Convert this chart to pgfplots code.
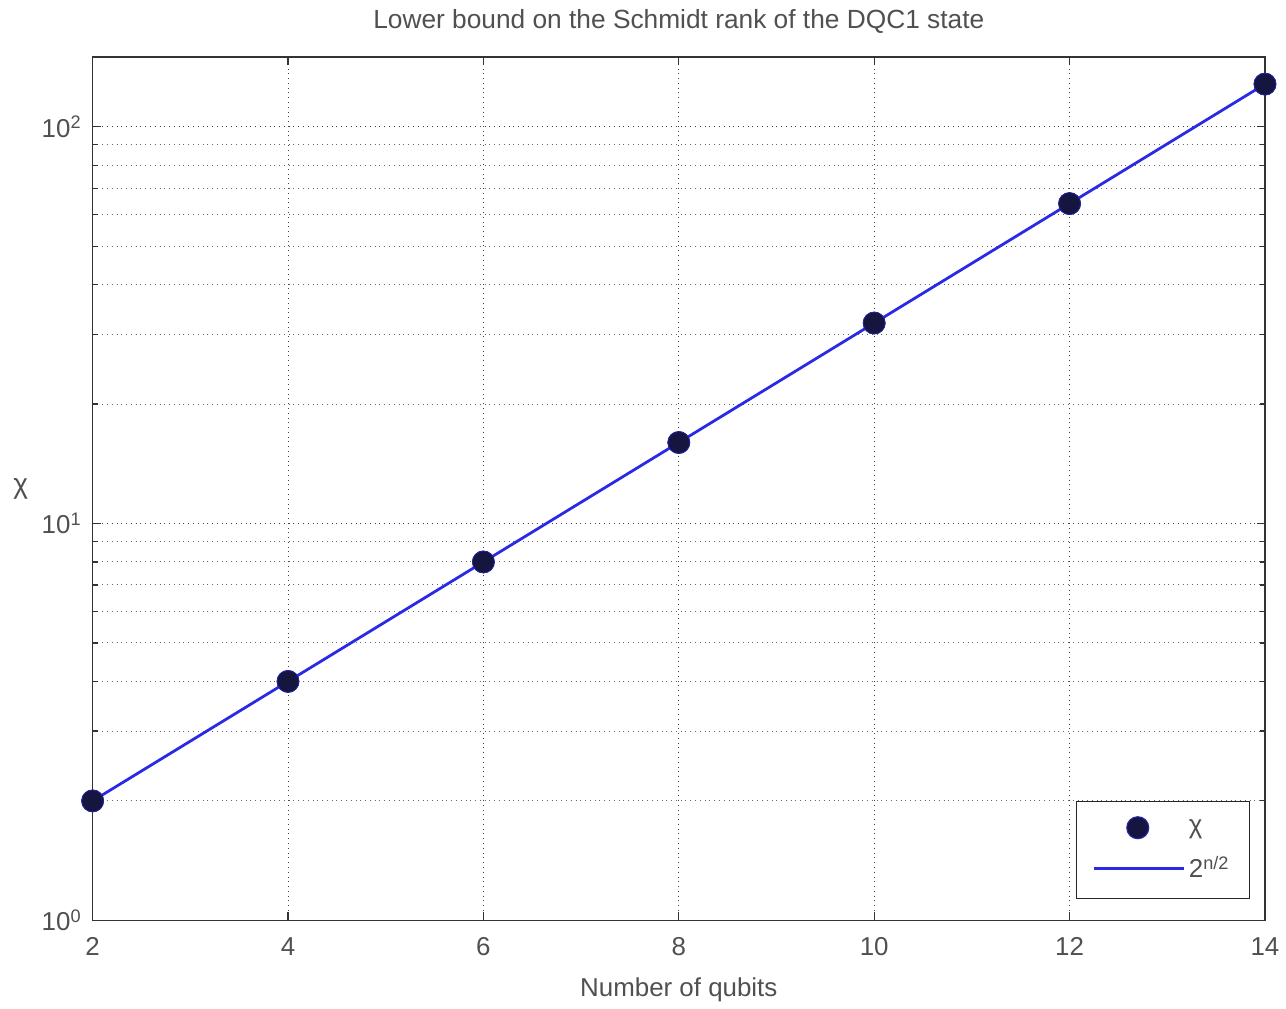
\documentclass[border=0pt]{standalone}
\usepackage{fontspec}
\setmainfont{Liberation Sans}
\usepackage{pgfplots}
\pgfplotsset{compat=1.18}
\definecolor{txt}{HTML}{505050}
\definecolor{mk}{HTML}{15153F}
\definecolor{ln}{HTML}{2A2AE6}
\pgfplotsset{
 mklegend/.style={legend image code/.code={\draw[##1] plot coordinates {(22pt,0pt)};}},
 lnlegend/.style={legend image code/.code={\draw[##1] (0pt,0pt) -- (45pt,0pt);}},
}
\begin{document}
\begin{tikzpicture}
\pgfplotstableread{
n chi
2 2
4 4
6 8
8 16
10 32
12 64
14 128
}\chidata
\begin{axis}[name=ax, scale only axis, width=588.5pt, height=433.5pt,
 ymode=log, xmin=2, xmax=14, ymin=1, ymax=150,
 xtick={2,4,...,14}, ytick={1,10,100},
 yticklabels={10\textsuperscript{0},10\textsuperscript{1},10\textsuperscript{2}},
 minor ytick={2,3,...,9,20,30,...,90},
 /pgf/number format/assume math mode=true,
 grid=both,
 major grid style={dotted, black!75, line width=0.5pt},
 minor grid style={dotted, black!60, line width=0.5pt},
 tick align=inside, major tick length=4pt, minor tick length=2.5pt,
 axis line style={black!80, line width=0.8pt},
 tick style={black!80, line width=0.6pt},
 ticklabel style={font=\fontsize{13}{15}\selectfont, text=txt},
 xticklabel style={yshift=-5pt},
 yticklabel style={xshift=-2pt},
 title={Lower bound on the Schmidt rank of the DQC1 state},
 title style={font=\fontsize{13.2}{15}\selectfont, text=txt, at={(0.5,1)}, anchor=south, yshift=2pt},
 xlabel={Number of qubits},
 xlabel style={font=\fontsize{13}{15}\selectfont, text=txt, yshift=-4pt},
 ylabel={χ},
 ylabel style={font=\fontsize{14}{16}\selectfont, text=txt, rotate=-90},
 legend style={at={(0.9873,0.0242)}, anchor=south east, draw=black!85, line width=0.6pt,
   font=\fontsize{13}{15}\selectfont, text=txt, row sep=6pt, inner xsep=8pt, inner ysep=7pt},
 legend cell align=left,
]
\addplot[only marks, mark=*, mark size=5.5pt, mark options={fill=mk, draw=ln!60!mk}, mklegend] table[x=n,y=chi]{\chidata};
\addlegendentry{χ}
\addplot[ln, line width=1.4pt, lnlegend] table[x=n,y=chi]{\chidata};
\addlegendentry{2\textsuperscript{n/2}}
\addplot[only marks, mark=*, mark size=5.5pt, mark options={fill=mk, draw=ln!60!mk}, forget plot] table[x=n,y=chi]{\chidata};
\end{axis}
\path ([shift={(-46.5pt,-40.5pt)}]ax.south west) rectangle ([shift={(8pt,28.5pt)}]ax.north east);
\end{tikzpicture}
\end{document}
